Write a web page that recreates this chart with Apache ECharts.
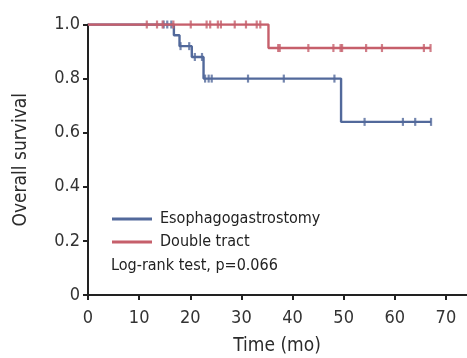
<!DOCTYPE html>
<html><head><meta charset="utf-8">
<script src="https://cdn.jsdelivr.net/npm/echarts@6/dist/echarts.min.js"></script>
<style>html,body{margin:0;padding:0;background:#fff}#c{width:467px;height:358px}</style>
</head><body><div id="c"></div>
<script>
// Esophagogastrostomy (blue) KM steps
const blueTimes = [0, 16.8, 17.9, 20.3, 22.6, 49.5, 67.1];
const blueSurv  = [1.0, 0.96, 0.92, 0.88, 0.80, 0.64, 0.64];
const blueCensTimes = [14.8, 15.5, 16.3, 18.1, 19.8, 20.9, 22.3, 22.9, 23.6, 24.2, 31.3, 38.3, 48.2, 54.1, 61.6, 64.0, 67.1];
const blueCensSurv  = [1.0, 1.0, 1.0, 0.92, 0.92, 0.88, 0.88, 0.80, 0.80, 0.80, 0.80, 0.80, 0.80, 0.64, 0.64, 0.64, 0.64];
// Double tract (red) KM steps
const redTimes = [0, 35.3, 67.0];
const redSurv  = [1.0, 0.913, 0.913];
const redCensTimes = [11.5, 13.5, 14.6, 16.7, 20.1, 23.2, 23.9, 25.4, 26.0, 28.7, 30.9, 33.0, 33.7, 37.2, 37.5, 43.1, 48.0, 49.4, 49.7, 54.4, 57.5, 65.7, 67.0];
const redCensSurv  = [1,1,1,1,1,1,1,1,1,1,1,1,1, 0.913,0.913,0.913,0.913,0.913,0.913,0.913,0.913,0.913,0.913];
const seriesNames = ['Esophagogastrostomy', 'Double tract'];
const noteText = 'Log-rank test, p=0.066';
const xName = 'Time (mo)', yName = 'Overall survival';

const BLUE = '#52699b', RED = '#c65f6b';
const FONT = '"DejaVu Sans Condensed", "Liberation Sans Narrow", "DejaVu Sans", sans-serif';
const zip = (a, b) => a.map((v, i) => [v, b[i]]);

const chart = echarts.init(document.getElementById('c'));
chart.setOption({
  animation: false,
  textStyle: { fontFamily: FONT },
  grid: { left: 88, right: -30, top: 24.5, bottom: 63, containLabel: false, outerBoundsMode: 'none' },
  xAxis: {
    type: 'value', min: 0, max: 80, interval: 10,
    axisLine: { lineStyle: { color: '#222', width: 2 } },
    axisTick: { length: 5, lineStyle: { color: '#222', width: 2 } },
    axisLabel: { fontFamily: FONT, fontSize: 18, color: '#333', margin: 14,
      formatter: v => v > 70 ? '' : String(v) },
    splitLine: { show: false }
  },
  yAxis: {
    type: 'value', min: 0, max: 1, interval: 0.2,
    name: yName, nameLocation: 'middle', nameGap: 57,
    nameTextStyle: { fontFamily: FONT, fontSize: 19, color: '#2b2b2b' },
    axisLine: { show: true, lineStyle: { color: '#222', width: 2 } },
    axisTick: { show: true, length: 5, lineStyle: { color: '#222', width: 2 } },
    axisLabel: { fontFamily: FONT, fontSize: 18, color: '#333', margin: 8,
      formatter: v => v === 0 ? '0' : v.toFixed(1) },
    splitLine: { show: false }
  },
  legend: {
    data: seriesNames, orient: 'vertical', left: 112, top: 211, padding: 0,
    itemWidth: 40, itemHeight: 3, itemGap: 7, icon: 'rect',
    textStyle: { fontFamily: FONT, fontSize: 16, color: '#222', padding: [0, 0, 0, 3] }
  },
  graphic: [{
    type: 'text', left: 111, top: 258,
    style: { text: noteText, fontFamily: FONT, fontSize: 16, fill: '#222' }
  }, {
    type: 'text', x: 277, y: 337,
    style: { text: xName, fontFamily: FONT, fontSize: 19, fill: '#2b2b2b', textAlign: 'center' }
  }],
  series: [
    { name: seriesNames[0], type: 'line', step: 'end', data: zip(blueTimes, blueSurv),
      showSymbol: false, color: BLUE, lineStyle: { color: BLUE, width: 2.4 }, z: 2 },
    { name: 'bc', type: 'scatter', data: zip(blueCensTimes, blueCensSurv),
      symbol: 'rect', symbolSize: [2.2, 8], itemStyle: { color: BLUE }, z: 3 },
    { name: seriesNames[1], type: 'line', step: 'end', data: zip(redTimes, redSurv),
      showSymbol: false, color: RED, lineStyle: { color: RED, width: 2.4 }, z: 4 },
    { name: 'rc', type: 'scatter', data: zip(redCensTimes, redCensSurv),
      symbol: 'rect', symbolSize: [2.2, 8], itemStyle: { color: RED }, z: 5 }
  ]
});
</script></body></html>
